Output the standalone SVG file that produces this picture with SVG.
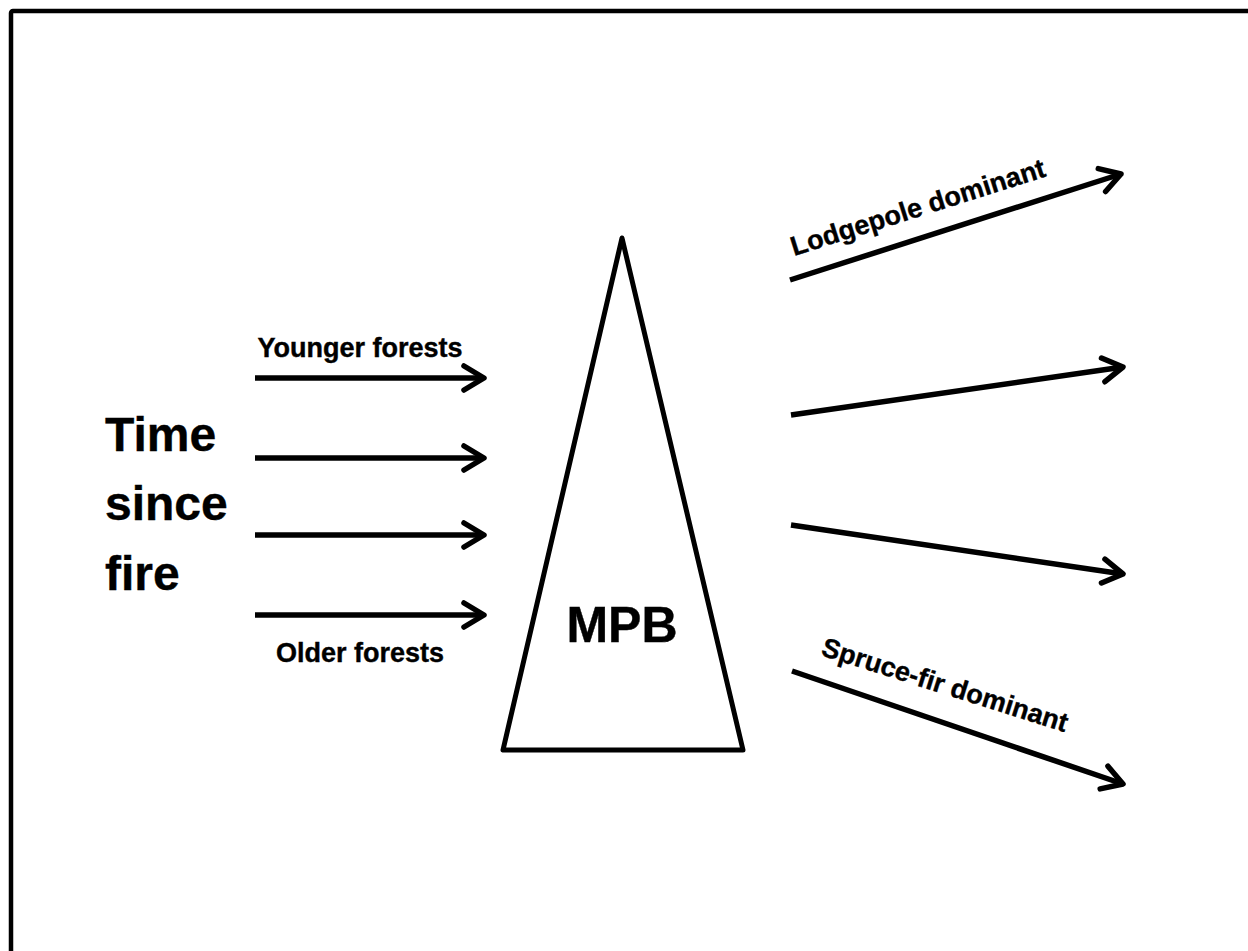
<svg xmlns="http://www.w3.org/2000/svg" width="1248" height="951" viewBox="0 0 1248 951">
<style>
.ln{stroke:#000;stroke-width:5.5;fill:none;stroke-linecap:butt;marker-end:url(#ah);}
.lbl{font-family:"Liberation Sans",Arial,sans-serif;font-weight:bold;fill:#000;stroke:#000;stroke-width:0.4;}
</style>
<defs>
<marker id="ah" viewBox="0 0 26 28" refX="23" refY="14" markerWidth="26" markerHeight="28" markerUnits="userSpaceOnUse" orient="auto" overflow="visible">
<path d="M3,2 L23,14 L3,26" fill="none" stroke="#000" stroke-width="5.5" stroke-linecap="round" stroke-linejoin="round"/>
</marker>
</defs>
<rect x="0" y="0" width="1248" height="951" fill="#fff"/>
<rect x="11" y="11" width="1300" height="1000" rx="2" fill="none" stroke="#000" stroke-width="4.5"/>
<g id="time-since-fire">
<text class="lbl" x="105" y="451" font-size="48">Time</text>
<text class="lbl" x="105" y="520" font-size="48">since</text>
<text class="lbl" x="105" y="590" font-size="48">fire</text>
</g>
<g id="mpb">
<polygon points="622,238 503,750 743,750" fill="#fff" stroke="#000" stroke-width="5" stroke-linejoin="round"/>
<text class="lbl" x="622" y="642" font-size="50" text-anchor="middle">MPB</text>
</g>
<g id="connectors">
<line class="ln" x1="255" y1="378" x2="484" y2="378"/>
<line class="ln" x1="255" y1="458" x2="484" y2="458"/>
<line class="ln" x1="255" y1="535" x2="484" y2="535"/>
<line class="ln" x1="255" y1="615" x2="484" y2="615"/>
<line class="ln" x1="790" y1="280" x2="1121" y2="174"/>
<line class="ln" x1="791" y1="415" x2="1123" y2="367"/>
<line class="ln" x1="791" y1="525" x2="1123" y2="574"/>
<line class="ln" x1="792" y1="671" x2="1123" y2="784"/>
</g>
<g id="labels">
<text class="lbl" x="360" y="357" font-size="27" text-anchor="middle">Younger forests</text>
<text class="lbl" x="360" y="662" font-size="27" text-anchor="middle">Older forests</text>
<text class="lbl" font-size="27" transform="translate(794,256) rotate(-17.5)">Lodgepole dominant</text>
<text class="lbl" font-size="27" transform="translate(820,655) rotate(17.5)">Spruce-fir dominant</text>
</g>
</svg>
